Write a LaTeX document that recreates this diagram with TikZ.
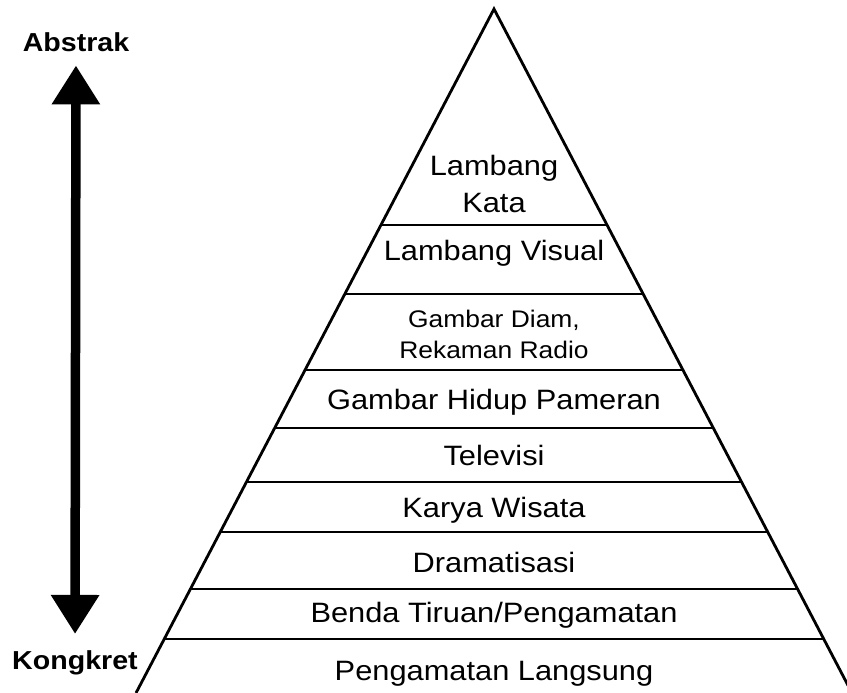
\documentclass[tikz,border=0pt]{standalone}
\usepackage{fontspec}
\setmainfont{Liberation Sans}[FakeStretch=1.1]
\usepackage{tikz}
\usetikzlibrary{calc}
\usetikzlibrary{arrows.meta}

\begin{document}
\begin{tikzpicture}[x=1pt, y=-1pt,
    level/.style={font=\fontsize{28}{37}\selectfont, inner sep=0pt, anchor=base, align=center},
    smalllevel/.style={level, font=\fontsize{24}{31}\selectfont},
    endlabel/.style={font=\fontsize{26}{30}\selectfont\bfseries, inner sep=0pt, anchor=base},
    side/.style={line width=2.8pt}]
      \useasboundingbox (0,0) rectangle (847,693);
      % pyramid
      \coordinate (top) at (494,9);
      \coordinate (bl) at (136,693);
      \coordinate (br) at (852,693);
      \draw[side] (bl) -- (top) -- (br);
      \foreach \y in {225,294,370,428,482,532,589,639}
        \draw[side] ($(top)!{(\y-9)/684}!(bl)$) -- ($(top)!{(\y-9)/684}!(br)$);
      \node[level] (kata) at (494,212) {Lambang\\Kata};
      \node[level] (visual) at (494,260) {Lambang Visual};
      \node[smalllevel] (diam) at (494,358) {Gambar Diam,\\Rekaman Radio};
      \node[level] (hidup) at (494,409) {Gambar Hidup Pameran};
      \node[level] (tv) at (494,465) {Televisi};
      \node[level] (wisata) at (494,517) {Karya Wisata};
      \node[level] (drama) at (494,572) {Dramatisasi};
      \node[level] (tiruan) at (494,622) {Benda Tiruan/Pengamatan};
      \node[level] (langsung) at (494,680) {Pengamatan Langsung};
      % abstract vs concrete
      \node[endlabel] (abstrak) at (76,52) {Abstrak};
      \node[endlabel] (kongkret) at (75,669) {Kongkret};
      \draw[line width=9.5pt, {Triangle[width=46pt,length=39pt]}-{Triangle[width=46pt,length=39pt]},
            shorten <=13pt, shorten >=16pt] (abstrak) -- (kongkret);
    \end{tikzpicture}
\end{document}
